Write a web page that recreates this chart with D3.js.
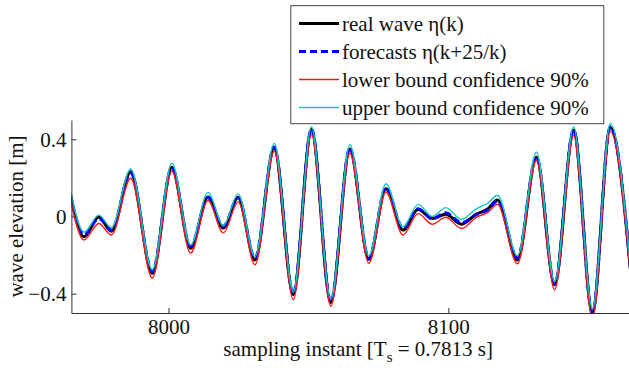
<!DOCTYPE html>
<html>
<head>
<meta charset="utf-8">
<script src="https://cdn.jsdelivr.net/npm/d3@7"></script>
<style>
  html, body { margin: 0; padding: 0; background: #fff; }
  svg { display: block; font-family: "Liberation Serif", "Times New Roman", serif; }
</style>
</head>
<body>
<div id="chart"></div>
<script>
// sampling instants (k) read at the turning points of the waves
const instants = [7965, 7969.8, 7975.1, 7979.6, 7986.5, 7994.2, 8001.2, 8007.9, 8014.1, 8019.6,
  8024.9, 8030.9, 8037.8, 8044.6, 8051.1, 8058.0, 8064.8, 8071.6, 8077.7, 8083.8,
  8089.2, 8094.3, 8099.1, 8104.7, 8110, 8114.2, 8117.6, 8124.7, 8131.5, 8138.0,
  8144.8, 8151.5, 8157.9, 8165.5];

// real wave eta(k)
const realWave = [0.11, -0.105, -0.003, -0.076, 0.232, -0.294, 0.255, -0.165, 0.101, -0.06,
  0.10, -0.225, 0.358, -0.405, 0.453, -0.445, 0.35, -0.222, 0.144, -0.07,
  0.036, -0.01, 0.012, -0.04, 0.012, 0.04, 0.086, -0.225, 0.307, -0.354,
  0.448, -0.495, 0.461, -0.34];

// forecasts eta(k+25/k)
const forecast = [0.11, -0.095, -0.01, -0.07, 0.225, -0.285, 0.25, -0.155, 0.098, -0.05,
  0.097, -0.215, 0.36, -0.40, 0.455, -0.44, 0.355, -0.215, 0.15, -0.06,
  0.04, -0.012, 0.02, -0.032, 0.01, 0.035, 0.08, -0.215, 0.31, -0.35,
  0.45, -0.50, 0.465, -0.335];

// lower bound confidence 90%
const lowerBound = [0.085, -0.122, -0.036, -0.096, 0.198, -0.319, 0.235, -0.19, 0.082, -0.085,
  0.076, -0.25, 0.338, -0.431, 0.424, -0.465, 0.328, -0.242, 0.127, -0.096,
  0.015, -0.04, -0.004, -0.062, -0.004, 0.022, 0.063, -0.245, 0.29, -0.38,
  0.419, -0.53, 0.441, -0.36];

// upper bound confidence 90%
const upperBound = [0.13, -0.08, 0.007, -0.057, 0.247, -0.276, 0.276, -0.148, 0.125, -0.048,
  0.117, -0.208, 0.379, -0.39, 0.465, -0.428, 0.372, -0.204, 0.17, -0.054,
  0.063, 0.0, 0.046, -0.015, 0.04, 0.07, 0.11, -0.204, 0.333, -0.337,
  0.465, -0.48, 0.482, -0.32];

const xTicks = [8000, 8100];
const yTicks = [-0.4, 0, 0.4];

const legendLabels = ["real wave \u03b7(k)", "forecasts \u03b7(k+25/k)",
  "lower bound confidence 90%", "upper bound confidence 90%"];

// ---- layout ----
const width = 629, height = 368;
const plot = { left: 71.4, right: 645, top: 120, bottom: 313 };
const fontSize = 21;

const series = [
  { values: realWave, color: "#000000", width: 3, dash: null },
  { values: forecast, color: "#0000ff", width: 3, dash: "7,4" },
  { values: lowerBound, color: "#ff1414", width: 1.4, dash: null },
  { values: upperBound, color: "#19c4c4", width: 1.4, dash: null }
];

const svg = d3.select("#chart").append("svg")
  .attr("width", width)
  .attr("height", height);

const x = d3.scaleLinear().domain([7965.3, 8170.3]).range([plot.left, plot.right]);
const y = d3.scaleLinear().domain([-0.5, 0.5]).range([plot.bottom, plot.top]);

svg.append("clipPath").attr("id", "plotClip")
  .append("rect")
  .attr("x", plot.left).attr("y", plot.top)
  .attr("width", plot.right - plot.left).attr("height", plot.bottom - plot.top);

// lines
const line = d3.line()
  .x(d => x(d[0]))
  .y(d => y(d[1]))
  .curve(d3.curveMonotoneX);

const lineGroup = svg.append("g").attr("clip-path", "url(#plotClip)");
series.forEach(s => {
  lineGroup.append("path")
    .datum(instants.map((k, i) => [k, s.values[i]]))
    .attr("fill", "none")
    .attr("stroke", s.color)
    .attr("stroke-width", s.width)
    .attr("stroke-dasharray", s.dash)
    .attr("stroke-linejoin", "round")
    .attr("d", line);
});

// axes (ticks point inward, like the original)
const axisColor = "#333";

const xAxis = svg.append("g")
  .attr("transform", `translate(0,${plot.bottom})`)
  .call(d3.axisBottom(x).tickValues(xTicks).tickFormat(d3.format("d"))
    .tickSizeInner(-5).tickSizeOuter(0).tickPadding(6));

const yAxis = svg.append("g")
  .attr("transform", `translate(${plot.left},0)`)
  .call(d3.axisLeft(y).tickValues(yTicks).tickFormat(d => d === 0 ? "0" : d3.format(".1f")(d))
    .tickSizeInner(-5).tickSizeOuter(0).tickPadding(5));

[xAxis, yAxis].forEach(ax => {
  ax.select(".domain").attr("stroke", axisColor);
  ax.selectAll(".tick line").attr("stroke", axisColor);
  ax.selectAll(".tick text")
    .attr("fill", "#111")
    .style("font-family", "'Liberation Serif', 'Times New Roman', serif")
    .style("font-size", fontSize + "px");
});

// axis labels
svg.append("text")
  .attr("transform", `translate(23,${(plot.top + plot.bottom) / 2}) rotate(-90)`)
  .attr("text-anchor", "middle")
  .style("font-size", fontSize + "px")
  .attr("fill", "#111")
  .text("wave elevation [m]");

const xLabel = svg.append("text")
  .attr("x", (plot.left + plot.right) / 2)
  .attr("y", 356)
  .attr("text-anchor", "middle")
  .style("font-size", fontSize + "px")
  .attr("fill", "#111");
xLabel.append("tspan").text("sampling instant [T");
xLabel.append("tspan").attr("dy", 6).style("font-size", "15px").text("s");
xLabel.append("tspan").attr("dy", -6).text(" = 0.7813 s]");

// legend
const legend = svg.append("g");
legend.append("rect")
  .attr("x", 290.8).attr("y", 5.7)
  .attr("width", 313).attr("height", 118)
  .attr("fill", "#fff")
  .attr("stroke", "#444")
  .attr("stroke-width", 1);

const rows = legend.selectAll("g.row")
  .data(series)
  .enter().append("g")
  .attr("class", "row")
  .attr("transform", (d, i) => `translate(299,${23.5 + i * 28})`);

rows.append("line")
  .attr("x1", 0).attr("x2", 40)
  .attr("y1", 0).attr("y2", 0)
  .attr("stroke", d => d.color)
  .attr("stroke-width", d => d.width)
  .attr("stroke-dasharray", d => d.dash);

rows.append("text")
  .attr("x", 43)
  .attr("y", 7.5)
  .style("font-size", fontSize + "px")
  .attr("fill", "#111")
  .text((d, i) => legendLabels[i]);
</script>
</body>
</html>
